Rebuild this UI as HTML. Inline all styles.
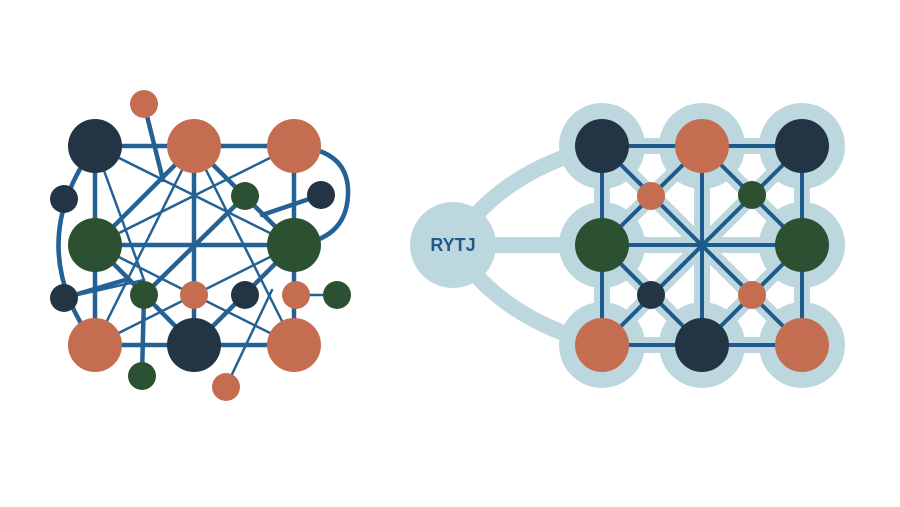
<!DOCTYPE html>
<html><head><style>html,body{margin:0;padding:0;background:#fff}svg{display:block}</style></head>
<body>
<svg width="900" height="507" viewBox="0 0 900 507" xmlns="http://www.w3.org/2000/svg">
<g stroke="#246296" fill="none" stroke-linecap="round">
  <path d="M95,146 Q22,245 95,345" stroke-width="4.5"/>
  <path d="M294,146 Q350,150 348,195 Q346,240 294,245" stroke-width="4.5"/>
  <g stroke-width="4.5">
    <line x1="95" y1="146" x2="294" y2="146"/>
    <line x1="95" y1="245" x2="294" y2="245"/>
    <line x1="95" y1="345" x2="294" y2="345"/>
    <line x1="95" y1="146" x2="95" y2="345"/>
    <line x1="194" y1="146" x2="194" y2="345"/>
    <line x1="294" y1="146" x2="294" y2="345"/>
    <line x1="144" y1="104" x2="163" y2="180"/>
    <line x1="194" y1="146" x2="95" y2="245"/>
    <line x1="194" y1="146" x2="294" y2="245"/>
    <line x1="95" y1="245" x2="194" y2="345"/>
    <line x1="64" y1="298" x2="125" y2="280"/>
    <line x1="144" y1="295" x2="245" y2="196"/>
    <line x1="321" y1="195" x2="262" y2="215"/>
    <line x1="294" y1="245" x2="194" y2="345"/>
    <line x1="144" y1="295" x2="142" y2="376"/>
  </g>
  <g stroke-width="2.5">
    <line x1="95" y1="146" x2="294" y2="245"/>
    <line x1="95" y1="146" x2="144" y2="280"/>
    <line x1="194" y1="146" x2="95" y2="345"/>
    <line x1="294" y1="146" x2="95" y2="245"/>
    <line x1="194" y1="146" x2="294" y2="345"/>
    <line x1="95" y1="245" x2="194" y2="295"/>
    <line x1="294" y1="245" x2="194" y2="295"/>
    <line x1="194" y1="295" x2="95" y2="345"/>
    <line x1="194" y1="295" x2="294" y2="345"/>
    <line x1="64" y1="298" x2="144" y2="280"/>
    <line x1="272" y1="290" x2="226" y2="387"/>
    <line x1="296" y1="295" x2="337" y2="295"/>
  </g>
</g>
<g>
  <circle cx="95" cy="146" r="27" fill="#233545"/>
  <circle cx="194" cy="146" r="27" fill="#c56d50"/>
  <circle cx="294" cy="146" r="27" fill="#c56d50"/>
  <circle cx="95" cy="245" r="27" fill="#2b5132"/>
  <circle cx="294" cy="245" r="27" fill="#2b5132"/>
  <circle cx="95" cy="345" r="27" fill="#c56d50"/>
  <circle cx="194" cy="345" r="27" fill="#233545"/>
  <circle cx="294" cy="345" r="27" fill="#c56d50"/>
  <circle cx="144" cy="104" r="14" fill="#c56d50"/>
  <circle cx="64" cy="199" r="14" fill="#233545"/>
  <circle cx="245" cy="196" r="14" fill="#2b5132"/>
  <circle cx="321" cy="195" r="14" fill="#233545"/>
  <circle cx="64" cy="298" r="14" fill="#233545"/>
  <circle cx="144" cy="295" r="14" fill="#2b5132"/>
  <circle cx="194" cy="295" r="14" fill="#c56d50"/>
  <circle cx="245" cy="295" r="14" fill="#233545"/>
  <circle cx="296" cy="295" r="14" fill="#c56d50"/>
  <circle cx="337" cy="295" r="14" fill="#2b5132"/>
  <circle cx="142" cy="376" r="14" fill="#2b5132"/>
  <circle cx="226" cy="387" r="14" fill="#c56d50"/>
</g>

<g stroke="#bcd7de" fill="none" stroke-width="16">
  <path d="M453,245 Q500,170 602,146"/>
  <path d="M453,245 Q500,320 602,345"/>
  <line x1="453" y1="245" x2="602" y2="245"/>
  <line x1="602" y1="146" x2="802" y2="146"/>
  <line x1="602" y1="345" x2="802" y2="345"/>
  <line x1="602" y1="245" x2="802" y2="245"/>
  <line x1="602" y1="146" x2="602" y2="345"/>
  <line x1="702" y1="146" x2="702" y2="345"/>
  <line x1="802" y1="146" x2="802" y2="345"/>
  <line x1="602" y1="146" x2="802" y2="345"/>
  <line x1="802" y1="146" x2="602" y2="345"/>
  <line x1="702" y1="146" x2="602" y2="245"/>
  <line x1="702" y1="146" x2="802" y2="245"/>
  <line x1="602" y1="245" x2="702" y2="345"/>
  <line x1="802" y1="245" x2="702" y2="345"/>
</g>
<g fill="#bcd7de">
  <circle cx="453" cy="245" r="43"/>
  <circle cx="602" cy="146" r="43"/><circle cx="702" cy="146" r="43"/><circle cx="802" cy="146" r="43"/>
  <circle cx="602" cy="245" r="43"/><circle cx="802" cy="245" r="43"/>
  <circle cx="602" cy="345" r="43"/><circle cx="702" cy="345" r="43"/><circle cx="802" cy="345" r="43"/>
</g>
<g stroke="#1f5a8c" stroke-width="4" fill="none">
  <rect x="602" y="146" width="200" height="199"/>
  <line x1="702" y1="146" x2="702" y2="345"/>
  <line x1="602" y1="245" x2="802" y2="245"/>
  <line x1="602" y1="146" x2="802" y2="345"/>
  <line x1="802" y1="146" x2="602" y2="345"/>
  <line x1="702" y1="146" x2="602" y2="245"/>
  <line x1="702" y1="146" x2="802" y2="245"/>
  <line x1="602" y1="245" x2="702" y2="345"/>
  <line x1="802" y1="245" x2="702" y2="345"/>
</g>
<g>
  <circle cx="602" cy="146" r="27" fill="#233545"/>
  <circle cx="702" cy="146" r="27" fill="#c56d50"/>
  <circle cx="802" cy="146" r="27" fill="#233545"/>
  <circle cx="602" cy="245" r="27" fill="#2b5132"/>
  <circle cx="802" cy="245" r="27" fill="#2b5132"/>
  <circle cx="602" cy="345" r="27" fill="#c56d50"/>
  <circle cx="702" cy="345" r="27" fill="#233545"/>
  <circle cx="802" cy="345" r="27" fill="#c56d50"/>
  <circle cx="651" cy="196" r="14" fill="#c56d50"/>
  <circle cx="752" cy="195" r="14" fill="#2b5132"/>
  <circle cx="651" cy="295" r="14" fill="#233545"/>
  <circle cx="752" cy="295" r="14" fill="#c56d50"/>
</g>
<text x="453" y="251" text-anchor="middle" font-family="Liberation Sans, sans-serif" font-weight="bold" font-size="18" fill="#1f5a8c">RYTJ</text>
</svg>
</body></html>
